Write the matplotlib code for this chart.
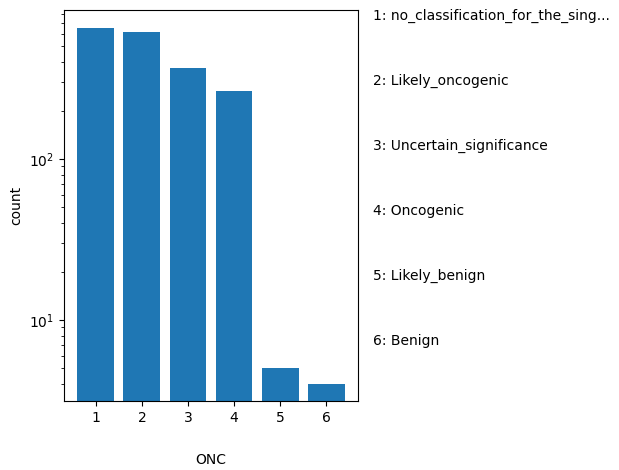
import matplotlib
matplotlib.use("Agg")
import matplotlib.pyplot as plt

categories = ["1", "2", "3", "4", "5", "6"]
counts = [652, 615, 367, 264, 5, 4]
names = ["no_classification_for_the_sing...", "Likely_oncogenic", "Uncertain_significance",
         "Oncogenic", "Likely_benign", "Benign"]

fig = plt.figure(figsize=(6.19, 4.70), dpi=100)
ax = fig.add_axes([64 / 619, 1 - 401 / 470, 294 / 619, 391 / 470])
ax.bar(categories, counts, color="#1f77b4")
ax.set_yscale("log")
ax.set_ylim(3.14, 842)
ax.set_xlabel("ONC", labelpad=20)
ax.set_ylabel("count")

for i, name in enumerate(names):
    fig.text(373 / 619, 1 - (16 + 65 * i) / 470, f"{i + 1}: {name}", va="center", ha="left", fontsize=10)

fig.savefig("out.png", dpi=100)
